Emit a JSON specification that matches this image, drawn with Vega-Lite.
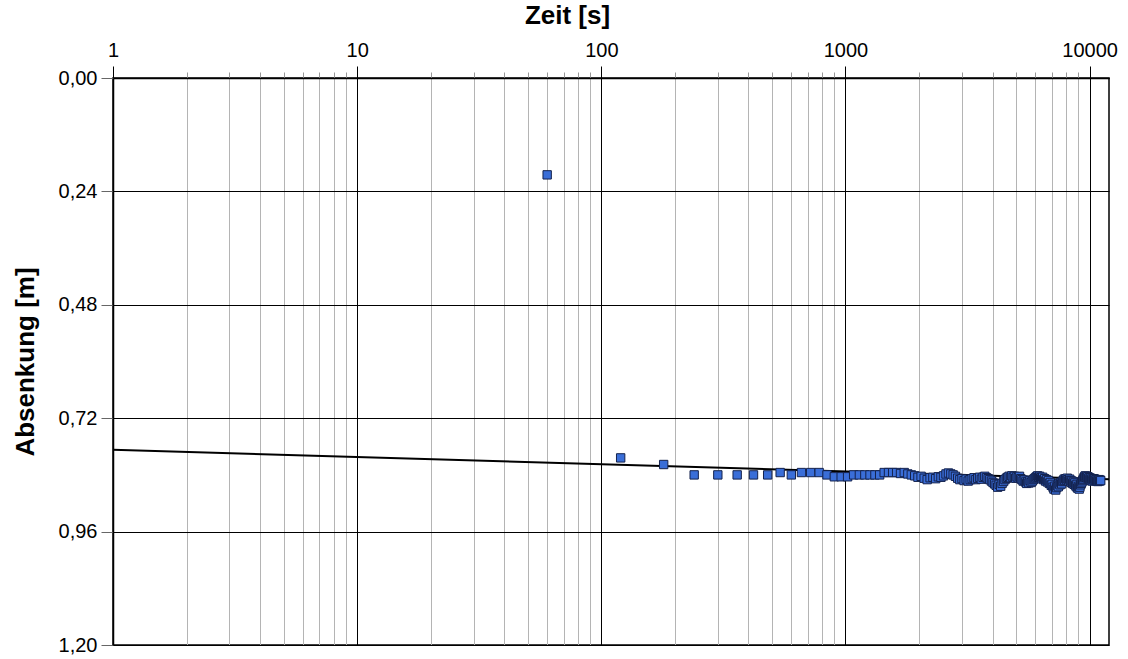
{
"$schema":"https://vega.github.io/schema/vega-lite/v6.json",
"width":996,"height":567,
"autosize":"none",
"padding":{"left":113,"top":78,"right":19,"bottom":14},
"background":"white",
"config":{"font":"Liberation Sans","view":{"stroke":"#000","strokeWidth":1.5}},
"datasets":{
"fit":[{"t":1,"s":0.787},{"t":12000,"s":0.849}],
"obs":[
{"t":60,"s":0.205},{"t":120,"s":0.804},{"t":180,"s":0.818},{"t":240,"s":0.840},{"t":300,"s":0.840},{"t":360,"s":0.840},{"t":420,"s":0.840},{"t":480,"s":0.840},{"t":540,"s":0.835},{"t":600,"s":0.840},
{"t":660,"s":0.835},{"t":720,"s":0.835},{"t":780,"s":0.835},{"t":840,"s":0.840},{"t":900,"s":0.844},{"t":960,"s":0.844},{"t":1020,"s":0.844},{"t":1080,"s":0.840},{"t":1140,"s":0.840},{"t":1200,"s":0.840},
{"t":1260,"s":0.840},{"t":1320,"s":0.840},{"t":1380,"s":0.840},{"t":1440,"s":0.835},{"t":1500,"s":0.835},{"t":1560,"s":0.835},{"t":1620,"s":0.835},{"t":1680,"s":0.837},{"t":1740,"s":0.835},{"t":1800,"s":0.838},
{"t":1860,"s":0.840},{"t":1920,"s":0.842},{"t":1980,"s":0.845},{"t":2040,"s":0.843},{"t":2100,"s":0.847},{"t":2160,"s":0.850},{"t":2220,"s":0.846},{"t":2280,"s":0.845},{"t":2340,"s":0.848},{"t":2400,"s":0.844},
{"t":2460,"s":0.845},{"t":2520,"s":0.842},{"t":2580,"s":0.838},{"t":2640,"s":0.836},{"t":2700,"s":0.838},{"t":2760,"s":0.840},{"t":2820,"s":0.843},{"t":2880,"s":0.847},{"t":2940,"s":0.850},{"t":3000,"s":0.848},
{"t":3060,"s":0.852},{"t":3120,"s":0.849},{"t":3180,"s":0.853},{"t":3240,"s":0.850},{"t":3300,"s":0.848},{"t":3360,"s":0.846},{"t":3420,"s":0.850},{"t":3480,"s":0.847},{"t":3540,"s":0.845},{"t":3600,"s":0.849},
{"t":3660,"s":0.845},{"t":3720,"s":0.843},{"t":3780,"s":0.846},{"t":3840,"s":0.848},{"t":3900,"s":0.850},{"t":3960,"s":0.853},{"t":4020,"s":0.856},{"t":4080,"s":0.859},{"t":4140,"s":0.862},{"t":4200,"s":0.866},
{"t":4260,"s":0.860},{"t":4320,"s":0.864},{"t":4380,"s":0.858},{"t":4440,"s":0.854},{"t":4500,"s":0.850},{"t":4560,"s":0.847},{"t":4620,"s":0.845},{"t":4680,"s":0.843},{"t":4740,"s":0.846},{"t":4800,"s":0.842},
{"t":4860,"s":0.845},{"t":4920,"s":0.843},{"t":4980,"s":0.847},{"t":5040,"s":0.844},{"t":5100,"s":0.846},{"t":5160,"s":0.843},{"t":5220,"s":0.848},{"t":5280,"s":0.850},{"t":5340,"s":0.853},{"t":5400,"s":0.851},
{"t":5460,"s":0.855},{"t":5520,"s":0.858},{"t":5580,"s":0.854},{"t":5640,"s":0.857},{"t":5700,"s":0.852},{"t":5760,"s":0.856},{"t":5820,"s":0.853},{"t":5880,"s":0.850},{"t":5940,"s":0.848},{"t":6000,"s":0.846},
{"t":6060,"s":0.844},{"t":6120,"s":0.842},{"t":6180,"s":0.845},{"t":6240,"s":0.843},{"t":6300,"s":0.846},{"t":6360,"s":0.848},{"t":6420,"s":0.845},{"t":6480,"s":0.850},{"t":6540,"s":0.848},{"t":6600,"s":0.853},
{"t":6660,"s":0.850},{"t":6720,"s":0.855},{"t":6780,"s":0.852},{"t":6840,"s":0.858},{"t":6900,"s":0.856},{"t":6960,"s":0.862},{"t":7020,"s":0.860},{"t":7080,"s":0.866},{"t":7140,"s":0.870},{"t":7200,"s":0.864},
{"t":7260,"s":0.872},{"t":7320,"s":0.867},{"t":7380,"s":0.862},{"t":7440,"s":0.865},{"t":7500,"s":0.858},{"t":7560,"s":0.861},{"t":7620,"s":0.856},{"t":7680,"s":0.859},{"t":7740,"s":0.854},{"t":7800,"s":0.852},
{"t":7860,"s":0.849},{"t":7920,"s":0.852},{"t":7980,"s":0.848},{"t":8040,"s":0.851},{"t":8100,"s":0.847},{"t":8160,"s":0.850},{"t":8220,"s":0.853},{"t":8280,"s":0.849},{"t":8340,"s":0.852},{"t":8400,"s":0.856},
{"t":8460,"s":0.853},{"t":8520,"s":0.858},{"t":8580,"s":0.855},{"t":8640,"s":0.860},{"t":8700,"s":0.857},{"t":8760,"s":0.862},{"t":8820,"s":0.865},{"t":8880,"s":0.860},{"t":8940,"s":0.868},{"t":9000,"s":0.864},
{"t":9060,"s":0.870},{"t":9120,"s":0.866},{"t":9180,"s":0.861},{"t":9240,"s":0.858},{"t":9300,"s":0.855},{"t":9360,"s":0.852},{"t":9420,"s":0.849},{"t":9480,"s":0.846},{"t":9540,"s":0.844},{"t":9600,"s":0.842},
{"t":9660,"s":0.845},{"t":9720,"s":0.843},{"t":9780,"s":0.846},{"t":9840,"s":0.844},{"t":9900,"s":0.848},{"t":9960,"s":0.846},{"t":10020,"s":0.850},{"t":10080,"s":0.847},{"t":10140,"s":0.852},{"t":10200,"s":0.849},
{"t":10260,"s":0.853},{"t":10320,"s":0.850},{"t":10380,"s":0.848},{"t":10440,"s":0.851},{"t":10500,"s":0.849},{"t":10560,"s":0.852},{"t":10620,"s":0.850},{"t":10680,"s":0.853},{"t":10740,"s":0.851},{"t":10800,"s":0.854},
{"t":10860,"s":0.852},{"t":10920,"s":0.850},{"t":10980,"s":0.853},{"t":11040,"s":0.851},{"t":11100,"s":0.852}
]},
"encoding":{
"x":{"field":"t","type":"quantitative",
 "scale":{"type":"log","domain":[1,12000],"nice":false},
 "axis":{"orient":"top","title":"Zeit [s]","titleFontSize":26,"titleFontWeight":"bold","titleColor":"#000","titlePadding":12,"titleX":454,"titleAlign":"center",
  "values":[1,2,3,4,5,6,7,8,9,10,20,30,40,50,60,70,80,90,100,200,300,400,500,600,700,800,900,1000,2000,3000,4000,5000,6000,7000,8000,9000,10000],
  "format":"d",
  "labelExpr":"abs(log(datum.value)/LN10 - round(log(datum.value)/LN10)) < 0.000001 ? datum.label : ''",
  "labelFontSize":20,"labelColor":"#000","labelPadding":6,"labelFlush":false,"labelOverlap":false,
  "domainColor":"#000","domainWidth":1.5,
  "grid":true,
  "gridColor":{"condition":{"test":"abs(log(datum.value)/LN10 - round(log(datum.value)/LN10)) < 0.000001","value":"#000"},"value":"#b4b4b4"},
  "gridWidth":1,
  "gridOpacity":1,
  "tickColor":{"condition":{"test":"abs(log(datum.value)/LN10 - round(log(datum.value)/LN10)) < 0.000001","value":"#000"},"value":"#999"},
  "tickSize":{"condition":{"test":"abs(log(datum.value)/LN10 - round(log(datum.value)/LN10)) < 0.000001","value":12},"value":6},
  "tickWidth":1}},
"y":{"field":"s","type":"quantitative",
 "scale":{"domain":[0,1.2],"reverse":true,"nice":false,"zero":false},
 "axis":{"title":"Absenkung [m]","titleFontSize":26,"titleFontWeight":"bold","titleColor":"#000","titlePadding":20,
  "values":[0,0.24,0.48,0.72,0.96,1.2],
  "labelExpr":"replace(format(datum.value,'.2f'),'.',',')",
  "labelFontSize":20,"labelColor":"#000","labelPadding":4,
  "domainColor":"#000","domainWidth":1.5,
  "grid":true,"gridColor":"#000","gridWidth":1,"gridOpacity":1,
  "tickColor":"#666","tickSize":12,"tickWidth":1}}
},
"layer":[
{"data":{"name":"fit"},"mark":{"type":"line","color":"#000","strokeWidth":2}},
{"data":{"name":"obs"},"mark":{"type":"square","size":70,"fill":"#3a6ed8","stroke":"#14224d","strokeWidth":1,"opacity":1}}
]
}
